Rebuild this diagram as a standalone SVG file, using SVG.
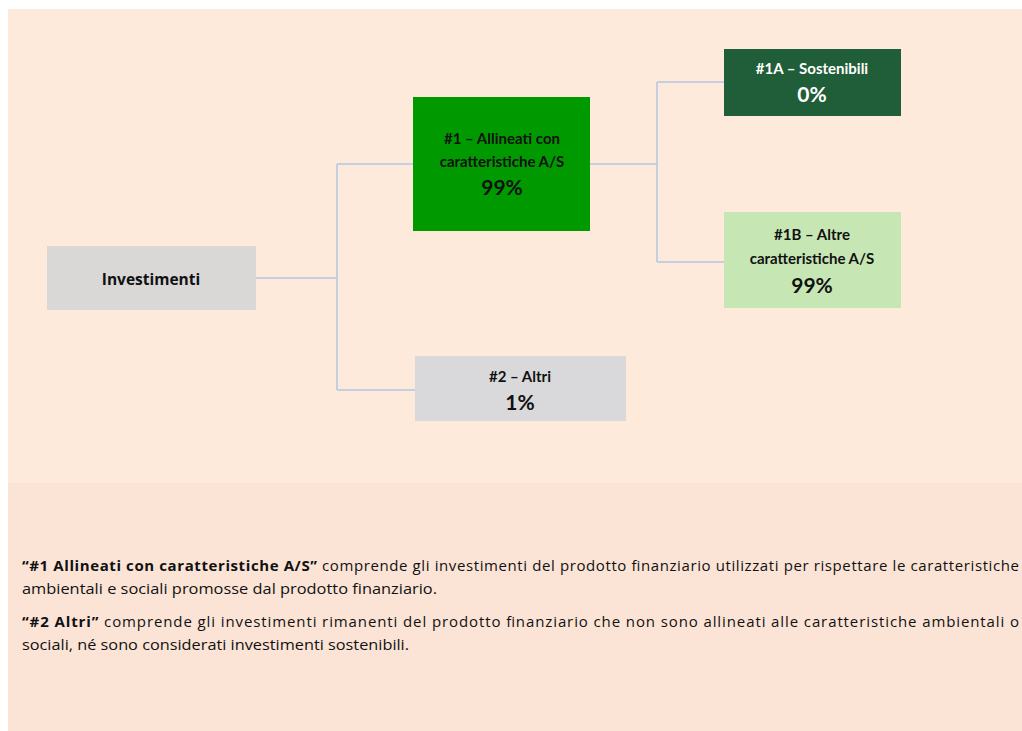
<svg xmlns="http://www.w3.org/2000/svg" width="1022" height="731" viewBox="0 0 1022 731">
<style>
.t{font-family:Lato,"Open Sans","Liberation Sans",sans-serif;font-weight:bold;text-anchor:middle;fill:#111}
.s{font-size:15px}
.p{font-size:21px}
.w{fill:#fff}
.con{fill:none;stroke:#B4C6E4;stroke-width:1.5}
.b{font-family:"Open Sans","Liberation Sans",sans-serif;font-size:15px;fill:#111}
</style>
<rect width="1022" height="731" fill="#fff"/>
<rect x="8" y="9" width="1014" height="722" fill="#FBE4D6"/>
<rect x="8" y="9" width="1014" height="474" fill="#FDEADB"/>
<g id="connectors">
<path class="con" d="M256 278H337M337 164V390M337 164H413M337 390H415"/>
<path class="con" d="M590 164H657M657 82V262M657 82H724M657 262H724"/>
</g>
<g id="investimenti">
<rect x="47" y="246" width="209" height="64" fill="#D9D8D7"/>
<text x="151" y="285" style="font-family:'Open Sans','Liberation Sans',sans-serif;font-weight:bold;font-size:15.5px;text-anchor:middle;fill:#111">Investimenti</text>
</g>
<g id="n1">
<rect x="413" y="97" width="177" height="134" fill="#009A00"/>
<text class="t s" x="502" y="144">#1 – Allineati con</text>
<text class="t s" x="502" y="167">caratteristiche A/S</text>
<text class="t p" x="502" y="195">99%</text>
</g>
<g id="n1a">
<rect x="724" y="49" width="177" height="67" fill="#1F5E38"/>
<text class="t s w" x="812" y="74">#1A – Sostenibili</text>
<text class="t p w" x="812" y="102">0%</text>
</g>
<g id="n1b">
<rect x="724" y="212" width="177" height="96" fill="#C6E6B4"/>
<text class="t s" x="812" y="240">#1B – Altre</text>
<text class="t s" x="812" y="264">caratteristiche A/S</text>
<text class="t p" x="812" y="293">99%</text>
</g>
<g id="n2">
<rect x="415" y="356" width="211" height="65" fill="#D9D9DB"/>
<text class="t s" x="520" y="382">#2 – Altri</text>
<text class="t p" x="520" y="410">1%</text>
</g>
<g id="legend">
<text class="b" x="22" y="571" textLength="997" lengthAdjust="spacing"><tspan font-weight="bold">“#1 Allineati con caratteristiche A/S”</tspan> comprende gli investimenti del prodotto finanziario utilizzati per rispettare le caratteristiche</text>
<text class="b" x="22" y="594" textLength="415" lengthAdjust="spacingAndGlyphs">ambientali e sociali promosse dal prodotto finanziario.</text>
<text class="b" x="22" y="627" textLength="997" lengthAdjust="spacing"><tspan font-weight="bold">“#2 Altri”</tspan> comprende gli investimenti rimanenti del prodotto finanziario che non sono allineati alle caratteristiche ambientali o</text>
<text class="b" x="22" y="650" textLength="387" lengthAdjust="spacingAndGlyphs">sociali, né sono considerati investimenti sostenibili.</text>
</g>
</svg>
